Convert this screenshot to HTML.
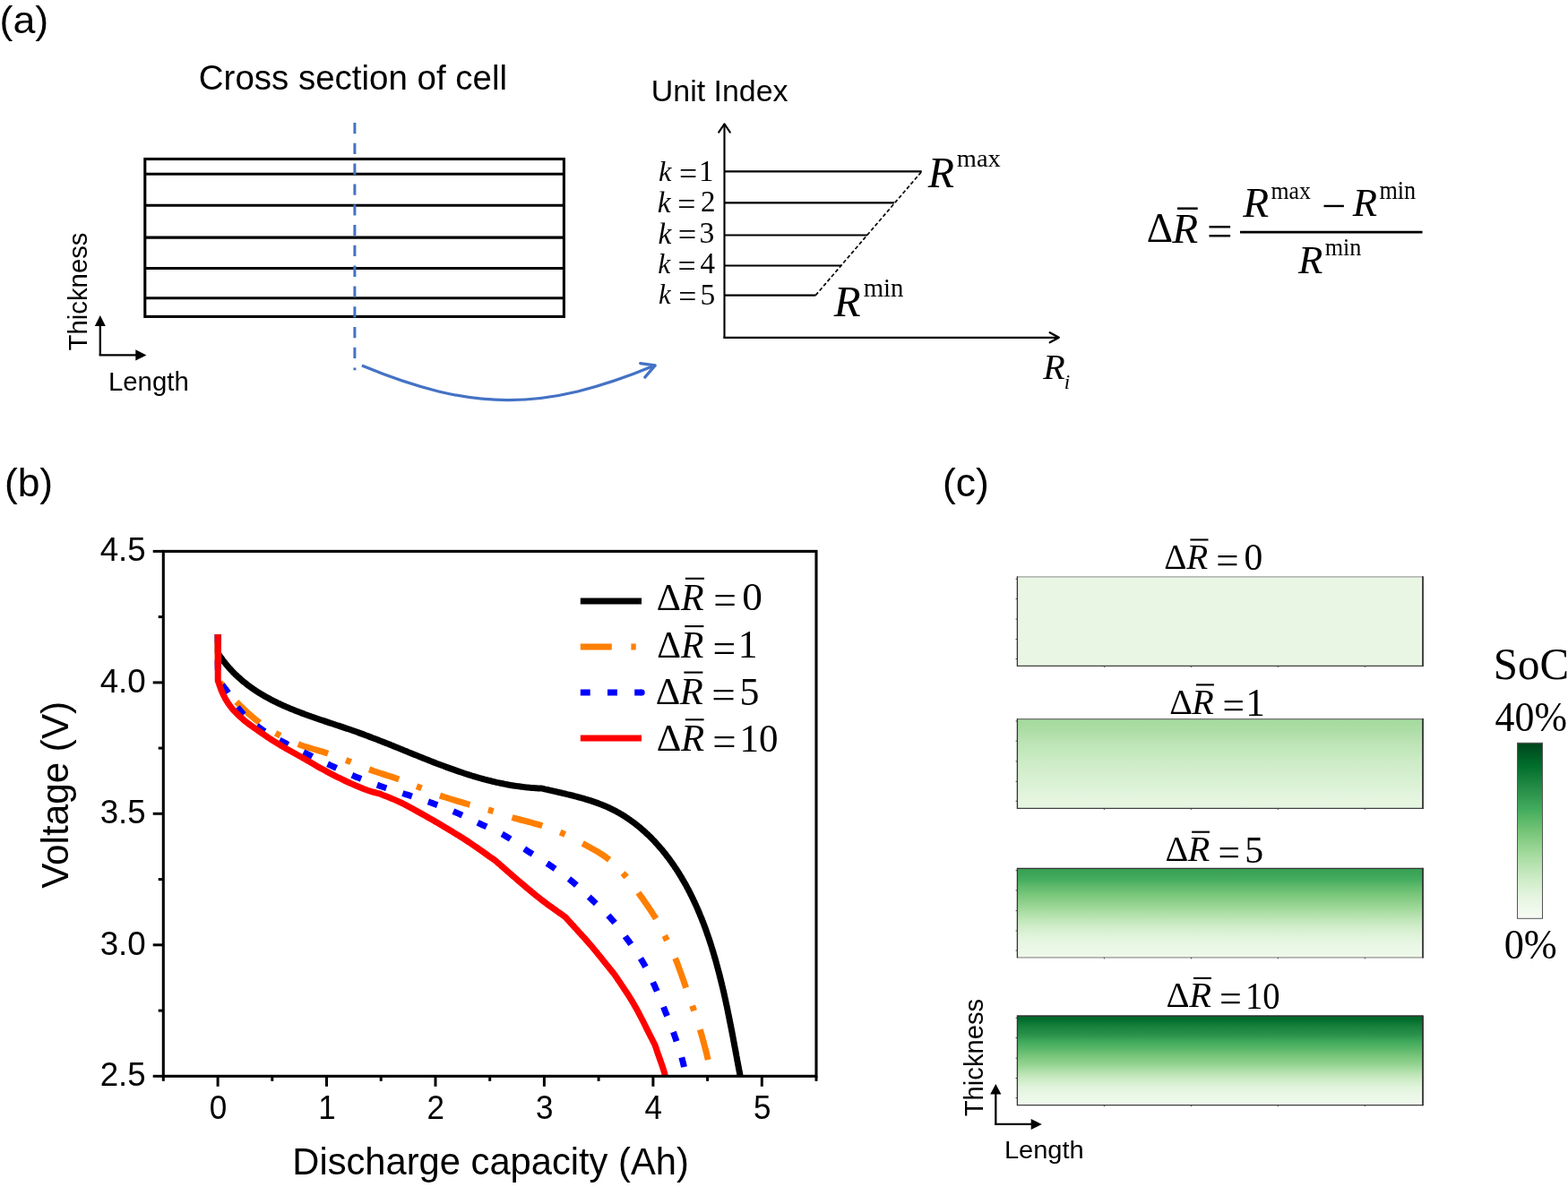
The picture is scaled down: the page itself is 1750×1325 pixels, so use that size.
<!DOCTYPE html>
<html><head><meta charset="utf-8"><title>Figure</title>
<style>html,body{margin:0;padding:0;background:#fff;overflow:hidden;} svg{display:block;}</style>
</head><body>
<svg width="1750" height="1325" viewBox="0 0 1750 1325">
<rect x="0" y="0" width="1750" height="1325" fill="#fff"/>
<text transform="translate(-0.40,37.05) scale(1.0312,1)" style="font-family:'Liberation Sans', Arial, Helvetica, sans-serif;font-size:43.38px;">(a)</text>
<text transform="translate(221.85,100.20) scale(0.9805,1)" style="font-family:'Liberation Sans', Arial, Helvetica, sans-serif;font-size:39.24px;">Cross section of cell</text>
<rect x="161.8" y="177.5" width="467.6" height="175.9" fill="none" stroke="#000" stroke-width="3.1"/>
<line x1="161.8" y1="194.2" x2="629.4" y2="194.2" stroke="#000" stroke-width="3.1"/>
<line x1="161.8" y1="229.3" x2="629.4" y2="229.3" stroke="#000" stroke-width="3.1"/>
<line x1="161.8" y1="265.1" x2="629.4" y2="265.1" stroke="#000" stroke-width="3.1"/>
<line x1="161.8" y1="299.5" x2="629.4" y2="299.5" stroke="#000" stroke-width="3.1"/>
<line x1="161.8" y1="332.8" x2="629.4" y2="332.8" stroke="#000" stroke-width="3.1"/>
<line x1="395.9" y1="137" x2="395.9" y2="413.3" stroke="#4472c4" stroke-width="3" stroke-dasharray="12.3 10.5"/>
<path d="M403.9,408.1 C527.2,459.4 607,459.4 730.5,408.1" fill="none" stroke="#4472c4" stroke-width="3.2"/>
<path d="M714.7,405.6 L731.2,407.9 L719.8,421.1" fill="none" stroke="#4472c4" stroke-width="3.3" stroke-linecap="round" stroke-linejoin="round"/>
<text transform="translate(97.05,391.50) rotate(-90)" style="font-family:'Liberation Sans', Arial, Helvetica, sans-serif;font-size:29.33px;">Thickness</text>
<line x1="111.8" y1="396.4" x2="111.8" y2="362" stroke="#000" stroke-width="2.3"/>
<polygon points="111.8,351.9 105.8,364 117.8,364" fill="#000"/>
<line x1="110.65" y1="396.4" x2="153" y2="396.4" stroke="#000" stroke-width="2.3"/>
<polygon points="163.4,396.4 151.3,390.2 151.3,402.6" fill="#000"/>
<text transform="translate(120.95,436.00) scale(1.0147,1)" style="font-family:'Liberation Sans', Arial, Helvetica, sans-serif;font-size:28.96px;">Length</text>
<text transform="translate(726.80,112.65) scale(1.0395,1)" style="font-family:'Liberation Sans', Arial, Helvetica, sans-serif;font-size:32.63px;">Unit Index</text>
<line x1="808.5" y1="377.8" x2="808.5" y2="138.5" stroke="#000" stroke-width="2.1"/>
<path d="M802.2,147.6 L808.5,138.3 L814.8,147.6" fill="none" stroke="#000" stroke-width="2.1" stroke-linecap="round" stroke-linejoin="round"/>
<line x1="807.5" y1="376.8" x2="1181.5" y2="376.8" stroke="#000" stroke-width="2.3"/>
<path d="M1171.7,371.3 L1181.8,376.8 L1171.7,382.3" fill="none" stroke="#000" stroke-width="2.3" stroke-linecap="round" stroke-linejoin="round"/>
<line x1="808.5" y1="191.4" x2="1028.7" y2="191.4" stroke="#000" stroke-width="2.1"/>
<line x1="808.5" y1="226.4" x2="998" y2="226.4" stroke="#000" stroke-width="2.1"/>
<line x1="808.5" y1="262.5" x2="968" y2="262.5" stroke="#000" stroke-width="2.1"/>
<line x1="808.5" y1="296.5" x2="938.2" y2="296.5" stroke="#000" stroke-width="2.1"/>
<line x1="808.5" y1="329.6" x2="910.3" y2="329.6" stroke="#000" stroke-width="2.1"/>
<line x1="910.3" y1="329.6" x2="1028.7" y2="191.4" stroke="#000" stroke-width="1.7" stroke-dasharray="4.2 2.6"/>
<text transform="translate(735.00,201.50)" style="font-family:'Liberation Serif', 'Times New Roman', Times, serif;font-size:32.53px;font-style:italic;">k</text>
<text transform="translate(757.90,205.55)" style="font-family:'Liberation Serif', 'Times New Roman', Times, serif;font-size:35.78px;">=</text>
<text transform="translate(779.95,201.95)" style="font-family:'Liberation Serif', 'Times New Roman', Times, serif;font-size:32.88px;">1</text>
<text transform="translate(733.75,236.80)" style="font-family:'Liberation Serif', 'Times New Roman', Times, serif;font-size:33.40px;font-style:italic;">k</text>
<text transform="translate(756.30,240.45)" style="font-family:'Liberation Serif', 'Times New Roman', Times, serif;font-size:35.78px;">=</text>
<text transform="translate(781.90,235.95)" style="font-family:'Liberation Serif', 'Times New Roman', Times, serif;font-size:33.01px;">2</text>
<text transform="translate(734.55,271.60)" style="font-family:'Liberation Serif', 'Times New Roman', Times, serif;font-size:33.40px;font-style:italic;">k</text>
<text transform="translate(756.75,274.45)" style="font-family:'Liberation Serif', 'Times New Roman', Times, serif;font-size:36.43px;">=</text>
<text transform="translate(780.60,271.00)" style="font-family:'Liberation Serif', 'Times New Roman', Times, serif;font-size:33.74px;">3</text>
<text transform="translate(734.35,305.30)" style="font-family:'Liberation Serif', 'Times New Roman', Times, serif;font-size:31.68px;font-style:italic;">k</text>
<text transform="translate(756.40,309.45)" style="font-family:'Liberation Serif', 'Times New Roman', Times, serif;font-size:35.78px;">=</text>
<text transform="translate(781.45,305.20)" style="font-family:'Liberation Serif', 'Times New Roman', Times, serif;font-size:33.05px;">4</text>
<text transform="translate(735.05,339.00)" style="font-family:'Liberation Serif', 'Times New Roman', Times, serif;font-size:30.85px;font-style:italic;">k</text>
<text transform="translate(757.30,343.35)" style="font-family:'Liberation Serif', 'Times New Roman', Times, serif;font-size:35.78px;">=</text>
<text transform="translate(781.55,339.55)" style="font-family:'Liberation Serif', 'Times New Roman', Times, serif;font-size:33.51px;">5</text>
<text transform="translate(1035.85,208.55)" style="font-family:'Liberation Serif', 'Times New Roman', Times, serif;font-size:48.03px;font-style:italic;">R</text>
<text transform="translate(1067.85,186.25) scale(1.0757,1)" style="font-family:'Liberation Serif', 'Times New Roman', Times, serif;font-size:26.46px;">max</text>
<text transform="translate(930.75,353.45)" style="font-family:'Liberation Serif', 'Times New Roman', Times, serif;font-size:48.94px;font-style:italic;">R</text>
<text transform="translate(963.65,331.45) scale(0.9611,1)" style="font-family:'Liberation Serif', 'Times New Roman', Times, serif;font-size:29.93px;">min</text>
<text transform="translate(1164.15,423.20)" style="font-family:'Liberation Serif', 'Times New Roman', Times, serif;font-size:40.06px;font-style:italic;">R</text>
<text transform="translate(1187.85,433.75)" style="font-family:'Liberation Serif', 'Times New Roman', Times, serif;font-size:23.18px;font-style:italic;">i</text>
<text transform="translate(1279.70,270.45)" style="font-family:'Liberation Serif', 'Times New Roman', Times, serif;font-size:45.62px;">Δ</text>
<text transform="translate(1308.35,270.70)" style="font-family:'Liberation Serif', 'Times New Roman', Times, serif;font-size:47.35px;font-style:italic;">R</text>
<text transform="translate(1346.90,275.05)" style="font-family:'Liberation Serif', 'Times New Roman', Times, serif;font-size:50.66px;">=</text>
<text transform="translate(1387.20,241.95)" style="font-family:'Liberation Serif', 'Times New Roman', Times, serif;font-size:47.43px;font-style:italic;">R</text>
<text transform="translate(1418.40,221.90) scale(0.9531,1)" style="font-family:'Liberation Serif', 'Times New Roman', Times, serif;font-size:27.08px;">max</text>
<text transform="translate(1475.05,245.65)" style="font-family:'Liberation Serif', 'Times New Roman', Times, serif;font-size:48.30px;">−</text>
<text transform="translate(1509.70,241.05)" style="font-family:'Liberation Serif', 'Times New Roman', Times, serif;font-size:44.73px;font-style:italic;">R</text>
<text transform="translate(1539.40,222.05) scale(0.9040,1)" style="font-family:'Liberation Serif', 'Times New Roman', Times, serif;font-size:28.97px;">min</text>
<text transform="translate(1448.95,304.75)" style="font-family:'Liberation Serif', 'Times New Roman', Times, serif;font-size:44.73px;font-style:italic;">R</text>
<text transform="translate(1478.70,285.00) scale(0.9289,1)" style="font-family:'Liberation Serif', 'Times New Roman', Times, serif;font-size:28.19px;">min</text>
<line x1="1314" y1="232.7" x2="1336.7" y2="232.7" stroke="#000" stroke-width="2.5"/>
<line x1="1384" y1="259.1" x2="1587.5" y2="259.1" stroke="#000" stroke-width="2.8"/>
<text transform="translate(4.90,554.00) scale(0.9880,1)" style="font-family:'Liberation Sans', Arial, Helvetica, sans-serif;font-size:44.91px;">(b)</text>
<defs><clipPath id="pc"><rect x="183" y="600" width="727" height="600.2"/></clipPath></defs>
<g clip-path="url(#pc)" fill="none" stroke-linejoin="round">
<path d="M243.2,708.0 L243.2,729.0 L244.1,730.3 L244.9,731.7 L245.8,733.0 L246.7,734.2 L247.7,735.5 L248.6,736.8 L249.5,738.0 L250.5,739.2 L251.4,740.4 L252.4,741.6 L253.4,742.8 L254.3,743.9 L255.3,745.1 L256.3,746.2 L257.4,747.3 L258.4,748.4 L259.4,749.5 L260.4,750.6 L261.5,751.6 L262.6,752.7 L263.6,753.7 L264.7,754.7 L265.8,755.8 L266.9,756.7 L268.0,757.7 L269.1,758.7 L270.2,759.6 L271.3,760.6 L272.5,761.5 L273.6,762.4 L274.8,763.3 L275.9,764.2 L277.1,765.1 L278.3,766.0 L279.4,766.9 L280.6,767.7 L281.8,768.5 L283.0,769.4 L284.2,770.2 L285.4,771.0 L286.7,771.8 L287.9,772.6 L289.1,773.4 L290.4,774.1 L291.6,774.9 L292.9,775.6 L294.1,776.4 L295.4,777.1 L296.7,777.8 L298.0,778.5 L299.2,779.2 L300.5,779.9 L301.8,780.6 L303.1,781.3 L304.4,782.0 L305.7,782.6 L307.1,783.3 L308.4,783.9 L309.7,784.6 L311.0,785.2 L312.4,785.8 L313.7,786.5 L315.1,787.1 L316.4,787.7 L317.8,788.3 L319.1,788.9 L320.5,789.5 L321.9,790.0 L323.2,790.6 L324.6,791.2 L326.0,791.8 L327.4,792.3 L328.8,792.9 L330.1,793.4 L331.5,794.0 L332.9,794.5 L334.3,795.0 L335.7,795.6 L337.1,796.1 L338.5,796.6 L340.0,797.2 L341.4,797.7 L342.8,798.2 L344.2,798.7 L345.6,799.2 L347.0,799.7 L348.5,800.2 L349.9,800.7 L351.3,801.2 L352.7,801.7 L354.2,802.2 L355.6,802.7 L357.0,803.2 L358.5,803.7 L359.9,804.2 L361.4,804.6 L362.8,805.1 L364.2,805.6 L365.7,806.1 L367.1,806.6 L368.6,807.1 L370.0,807.5 L371.5,808.0 L372.9,808.5 L374.3,809.0 L375.8,809.5 L377.2,809.9 L378.7,810.4 L380.1,810.9 L381.6,811.4 L383.0,811.9 L384.5,812.4 L385.9,812.9 L387.3,813.3 L388.8,813.8 L390.2,814.3 L391.7,814.8 L393.1,815.3 L394.5,815.8 L396.0,816.3 L397.4,816.8 L398.9,817.3 L400.3,817.9 L401.7,818.4 L403.1,818.9 L404.6,819.4 L406.0,819.9 L407.4,820.5 L408.8,821.0 L410.3,821.5 L411.7,822.1 L413.1,822.6 L414.5,823.1 L415.9,823.7 L417.4,824.2 L418.8,824.8 L420.2,825.3 L421.6,825.9 L423.0,826.4 L424.4,827.0 L425.8,827.5 L427.2,828.1 L428.6,828.6 L430.1,829.2 L431.5,829.8 L432.9,830.3 L434.3,830.9 L435.7,831.4 L437.1,832.0 L438.5,832.6 L439.9,833.1 L441.3,833.7 L442.7,834.3 L444.1,834.8 L445.5,835.4 L446.9,836.0 L448.3,836.5 L449.7,837.1 L451.1,837.7 L452.5,838.2 L453.9,838.8 L455.3,839.4 L456.6,839.9 L458.0,840.5 L459.4,841.1 L460.8,841.6 L462.2,842.2 L463.6,842.8 L465.0,843.3 L466.4,843.9 L467.8,844.5 L469.2,845.0 L470.6,845.6 L472.0,846.1 L473.4,846.7 L474.8,847.3 L476.2,847.8 L477.6,848.4 L479.0,848.9 L480.4,849.5 L481.8,850.0 L483.1,850.6 L484.5,851.1 L485.9,851.6 L487.3,852.2 L488.7,852.7 L490.1,853.2 L491.5,853.8 L492.9,854.3 L494.3,854.8 L495.7,855.3 L497.1,855.9 L498.5,856.4 L499.9,856.9 L501.3,857.4 L502.7,857.9 L504.2,858.4 L505.6,858.9 L507.0,859.4 L508.4,859.9 L509.8,860.4 L511.2,860.9 L512.6,861.4 L514.0,861.8 L515.4,862.3 L516.8,862.8 L518.3,863.3 L519.7,863.7 L521.1,864.2 L522.5,864.6 L523.9,865.1 L525.3,865.5 L526.8,866.0 L528.2,866.4 L529.6,866.8 L531.0,867.2 L532.5,867.7 L533.9,868.1 L535.3,868.5 L536.8,868.9 L538.2,869.3 L539.6,869.7 L541.1,870.1 L542.5,870.4 L543.9,870.8 L545.4,871.2 L546.8,871.5 L548.3,871.9 L549.7,872.3 L551.2,872.6 L552.6,872.9 L554.1,873.3 L555.5,873.6 L557.0,873.9 L558.5,874.2 L559.9,874.5 L561.4,874.8 L562.8,875.1 L564.3,875.4 L565.8,875.7 L567.3,876.0 L568.7,876.2 L570.2,876.5 L571.7,876.7 L573.2,877.0 L574.7,877.2 L576.1,877.4 L577.6,877.6 L579.1,877.8 L580.6,878.0 L582.1,878.2 L583.6,878.4 L585.1,878.6 L586.6,878.8 L588.1,878.9 L589.6,879.1 L591.2,879.2 L592.7,879.4 L594.2,879.5 L595.7,879.6 L597.2,879.7 L598.8,879.8 L600.3,879.9 L601.8,880.0 L603.4,880.0 L604.9,880.1 L606.3,880.4 L607.8,880.8 L609.2,881.1 L610.7,881.4 L612.1,881.8 L613.6,882.1 L615.0,882.4 L616.5,882.8 L618.0,883.1 L619.4,883.4 L620.9,883.8 L622.4,884.1 L623.9,884.5 L625.4,884.8 L626.8,885.1 L628.3,885.5 L629.8,885.8 L631.3,886.2 L632.8,886.6 L634.3,886.9 L635.8,887.3 L637.3,887.6 L638.8,888.0 L640.3,888.4 L641.7,888.8 L643.2,889.2 L644.7,889.6 L646.2,890.0 L647.7,890.4 L649.2,890.8 L650.7,891.2 L652.1,891.6 L653.6,892.1 L655.1,892.5 L656.5,893.0 L658.0,893.4 L659.5,893.9 L660.9,894.4 L662.4,894.9 L663.8,895.4 L665.3,895.9 L666.7,896.4 L668.1,896.9 L669.6,897.5 L671.0,898.0 L672.4,898.6 L673.8,899.1 L675.2,899.7 L676.6,900.3 L678.0,900.9 L679.3,901.5 L680.7,902.2 L682.0,902.8 L683.4,903.5 L684.7,904.2 L686.1,904.8 L687.4,905.5 L688.7,906.3 L690.0,907.0 L691.3,907.7 L692.6,908.5 L693.9,909.2 L695.2,910.0 L696.4,910.8 L697.7,911.6 L698.9,912.4 L700.2,913.2 L701.4,914.1 L702.6,914.9 L703.8,915.8 L705.0,916.6 L706.2,917.5 L707.4,918.4 L708.6,919.3 L709.8,920.2 L710.9,921.1 L712.1,922.0 L713.2,923.0 L714.4,923.9 L715.5,924.9 L716.6,925.8 L717.7,926.8 L718.9,927.8 L720.0,928.8 L721.0,929.8 L722.1,930.8 L723.2,931.8 L724.3,932.9 L725.3,933.9 L726.4,934.9 L727.4,936.0 L728.5,937.1 L729.5,938.1 L730.5,939.2 L731.5,940.3 L732.5,941.4 L733.5,942.5 L734.5,943.6 L735.5,944.7 L736.5,945.9 L737.4,947.0 L738.4,948.1 L739.4,949.3 L740.3,950.4 L741.2,951.6 L742.2,952.7 L743.1,953.9 L744.0,955.1 L744.9,956.3 L745.8,957.4 L746.7,958.6 L747.6,959.8 L748.4,961.0 L749.3,962.2 L750.2,963.5 L751.0,964.7 L751.9,965.9 L752.7,967.1 L753.5,968.4 L754.4,969.6 L755.2,970.8 L756.0,972.1 L756.8,973.3 L757.6,974.6 L758.4,975.9 L759.1,977.1 L759.9,978.4 L760.7,979.7 L761.4,981.0 L762.2,982.2 L762.9,983.5 L763.7,984.8 L764.4,986.1 L765.2,987.4 L765.9,988.7 L766.6,990.1 L767.3,991.4 L768.0,992.7 L768.7,994.0 L769.4,995.3 L770.1,996.7 L770.7,998.0 L771.4,999.3 L772.1,1000.7 L772.7,1002.0 L773.4,1003.4 L774.0,1004.7 L774.7,1006.1 L775.3,1007.5 L775.9,1008.8 L776.6,1010.2 L777.2,1011.6 L777.8,1012.9 L778.4,1014.3 L779.0,1015.7 L779.6,1017.1 L780.2,1018.5 L780.8,1019.9 L781.3,1021.3 L781.9,1022.7 L782.5,1024.1 L783.1,1025.5 L783.6,1026.9 L784.2,1028.3 L784.7,1029.7 L785.3,1031.1 L785.8,1032.5 L786.3,1034.0 L786.9,1035.4 L787.4,1036.8 L787.9,1038.2 L788.4,1039.7 L788.9,1041.1 L789.4,1042.6 L789.9,1044.0 L790.4,1045.4 L790.9,1046.9 L791.4,1048.3 L791.9,1049.8 L792.3,1051.2 L792.8,1052.7 L793.3,1054.1 L793.8,1055.6 L794.2,1057.0 L794.7,1058.5 L795.1,1060.0 L795.6,1061.4 L796.0,1062.9 L796.4,1064.4 L796.9,1065.8 L797.3,1067.3 L797.7,1068.8 L798.2,1070.2 L798.6,1071.7 L799.0,1073.2 L799.4,1074.7 L799.8,1076.1 L800.2,1077.6 L800.6,1079.1 L801.0,1080.6 L801.4,1082.1 L801.8,1083.6 L802.2,1085.0 L802.6,1086.5 L803.0,1088.0 L803.3,1089.5 L803.7,1091.0 L804.1,1092.5 L804.5,1094.0 L804.8,1095.5 L805.2,1097.0 L805.6,1098.5 L805.9,1100.0 L806.3,1101.4 L806.6,1102.9 L807.0,1104.4 L807.3,1105.9 L807.7,1107.4 L808.0,1108.9 L808.3,1110.4 L808.7,1111.9 L809.0,1113.4 L809.3,1114.9 L809.7,1116.4 L810.0,1117.9 L810.3,1119.4 L810.6,1120.9 L811.0,1122.4 L811.3,1123.9 L811.6,1125.4 L811.9,1126.9 L812.2,1128.4 L812.5,1129.9 L812.8,1131.4 L813.1,1132.8 L813.4,1134.3 L813.7,1135.8 L814.0,1137.3 L814.3,1138.8 L814.6,1140.3 L814.9,1141.8 L815.2,1143.3 L815.5,1144.8 L815.8,1146.3 L816.1,1147.7 L816.4,1149.2 L816.7,1150.7 L817.0,1152.2 L817.2,1153.7 L817.5,1155.2 L817.8,1156.6 L818.1,1158.1 L818.4,1159.6 L818.6,1161.1 L818.9,1162.5 L819.2,1164.0 L819.5,1165.5 L819.7,1166.9 L820.0,1168.4 L820.3,1169.9 L820.6,1171.3 L820.8,1172.8 L821.1,1174.3 L821.4,1175.7 L821.7,1177.2 L821.9,1178.6 L822.2,1180.1 L822.5,1181.5 L822.7,1183.0 L823.0,1184.4 L823.3,1185.9 L823.5,1187.3 L823.8,1188.7 L824.1,1190.2 L824.3,1191.6 L824.6,1193.0 L824.9,1194.5 L825.2,1195.9 L825.4,1197.3 L825.7,1198.7 L826.0,1200.2 L826.2,1201.6 L826.5,1203.0" stroke="#000" stroke-width="7"/>
<path d="M243.2,708.0 L243.2,760.0 L246.0,762.3 L249.0,765.0 L250.7,766.9 L252.5,769.2 L254.4,771.7 L256.3,774.3 L258.4,777.1 L260.7,779.9 L263.0,782.5 L264.9,784.5 L267.0,786.6 L269.1,788.7 L271.3,790.9 L273.6,793.0 L275.9,795.2 L278.2,797.3 L280.6,799.3 L282.9,801.3 L285.2,803.2 L287.5,805.0 L290.2,807.0 L292.9,809.0 L295.6,810.8 L298.2,812.6 L300.9,814.3 L303.6,816.0 L306.4,817.6 L309.2,819.2 L312.0,820.8 L314.9,822.3 L317.7,823.8 L320.6,825.2 L323.5,826.6 L326.5,828.0 L329.6,829.3 L332.8,830.6 L335.6,831.7 L338.5,832.7 L341.5,833.7 L344.6,834.6 L347.7,835.5 L350.9,836.5 L354.0,837.4 L357.1,838.3 L360.1,839.2 L363.0,840.1 L365.8,841.0 L368.8,842.1 L371.8,843.1 L374.6,844.1 L377.4,845.2 L380.2,846.2 L382.9,847.2 L385.7,848.3 L388.5,849.4 L391.4,850.5 L394.2,851.7 L397.1,852.9 L399.9,854.1 L402.8,855.3 L405.8,856.5 L408.8,857.7 L412.0,858.9 L414.9,859.9 L417.9,861.0 L421.0,862.0 L424.2,863.0 L427.5,864.1 L430.7,865.1 L433.9,866.2 L437.1,867.2 L440.2,868.2 L443.2,869.2 L446.0,870.2 L449.4,871.4 L452.5,872.7 L455.6,873.9 L458.6,875.1 L461.6,876.3 L464.6,877.5 L467.7,878.7 L470.6,879.9 L473.4,881.0 L476.3,882.2 L479.2,883.4 L482.1,884.6 L485.1,885.8 L488.1,887.0 L491.3,888.1 L494.1,889.1 L497.0,890.0 L500.1,891.0 L503.2,892.0 L506.3,892.9 L509.4,893.9 L512.6,894.8 L515.7,895.7 L518.7,896.6 L521.7,897.5 L524.5,898.3 L527.6,899.2 L530.7,900.1 L533.6,900.9 L536.6,901.7 L539.4,902.4 L542.3,903.2 L545.2,904.0 L548.1,904.9 L551.0,905.8 L553.9,906.7 L556.8,907.7 L559.6,908.6 L562.5,909.6 L565.5,910.6 L568.5,911.5 L571.7,912.5 L574.6,913.3 L577.6,914.2 L580.7,915.0 L583.9,915.9 L587.1,916.7 L590.4,917.5 L593.6,918.4 L596.8,919.3 L599.9,920.1 L602.9,921.0 L605.7,921.9 L608.8,922.9 L611.7,923.9 L614.6,924.9 L617.4,926.0 L620.2,927.0 L622.9,928.1 L625.6,929.2 L628.3,930.4 L631.3,931.7 L634.2,933.1 L637.1,934.5 L640.0,936.0 L642.9,937.5 L645.9,939.1 L649.0,940.8 L651.5,942.1 L654.0,943.5 L656.7,945.0 L659.4,946.4 L662.1,948.0 L664.8,949.5 L667.5,951.1 L670.1,952.7 L672.6,954.3 L675.1,956.0 L677.4,957.7 L680.1,959.8 L682.6,961.9 L685.0,964.1 L687.3,966.4 L689.6,968.6 L691.8,970.9 L694.0,973.3 L696.2,975.7 L698.3,978.1 L700.4,980.6 L702.4,983.1 L704.4,985.6 L706.3,988.2 L708.3,990.9 L710.3,993.6 L712.3,996.4 L714.1,998.9 L715.9,1001.4 L717.8,1004.1 L719.7,1006.8 L721.6,1009.5 L723.5,1012.3 L725.4,1015.1 L727.2,1017.8 L728.9,1020.5 L730.6,1023.1 L732.1,1025.7 L733.7,1028.5 L735.3,1031.3 L736.7,1034.1 L738.0,1036.8 L739.4,1039.4 L740.7,1042.1 L742.0,1044.8 L743.3,1047.6 L744.7,1050.4 L746.0,1053.2 L747.4,1055.9 L748.7,1058.7 L750.1,1061.6 L751.4,1064.4 L752.7,1067.4 L754.0,1070.5 L755.1,1073.2 L756.2,1076.1 L757.3,1079.1 L758.4,1082.1 L759.5,1085.1 L760.6,1088.2 L761.7,1091.3 L762.8,1094.3 L763.8,1097.3 L764.8,1100.2 L765.8,1103.0 L766.9,1106.1 L768.0,1109.1 L769.0,1112.1 L770.0,1115.0 L771.0,1117.8 L772.0,1120.7 L773.0,1123.6 L774.0,1126.5 L775.0,1129.5 L776.0,1132.4 L776.9,1135.3 L777.9,1138.3 L778.9,1141.2 L779.8,1144.3 L780.8,1147.4 L781.7,1150.6 L782.5,1153.5 L783.4,1156.4 L784.2,1159.5 L785.1,1162.7 L785.9,1165.9 L786.8,1169.1 L787.6,1172.2 L788.4,1175.3 L789.1,1178.3 L789.8,1181.2 L790.4,1183.9 L791.1,1187.4 L791.7,1190.6 L792.3,1193.8 L792.8,1196.8 L793.3,1199.9 L793.8,1203.0" stroke="#ff7f00" stroke-width="7" stroke-dasharray="35 21.2 6 22" stroke-dashoffset="-83.37"/>
<path d="M243.2,708.0 L243.2,760.0 L245.3,762.2 L247.3,764.3 L249.5,766.5 L251.7,769.2 L253.3,771.3 L254.9,773.7 L256.5,776.3 L258.2,779.1 L259.9,781.9 L261.8,784.8 L263.6,787.6 L265.6,790.3 L267.7,792.8 L269.8,795.1 L271.9,797.3 L274.2,799.5 L276.5,801.7 L278.9,803.8 L281.3,805.9 L283.8,807.9 L286.3,809.8 L288.8,811.8 L291.3,813.6 L294.0,815.5 L296.8,817.3 L299.6,819.1 L302.4,820.8 L305.3,822.4 L308.1,824.0 L311.0,825.6 L313.9,827.1 L316.8,828.7 L319.7,830.2 L322.6,831.8 L325.5,833.2 L328.4,834.7 L331.4,836.1 L334.3,837.6 L337.3,839.0 L340.2,840.5 L343.2,841.9 L345.9,843.2 L348.6,844.6 L351.4,845.9 L354.1,847.2 L356.9,848.6 L359.6,849.9 L362.4,851.2 L365.1,852.5 L367.9,853.8 L370.6,855.1 L373.6,856.5 L376.7,857.9 L379.7,859.3 L382.7,860.7 L385.7,862.1 L388.8,863.5 L391.8,864.8 L394.8,866.1 L397.9,867.4 L400.9,868.6 L403.9,869.8 L407.0,871.0 L410.0,872.2 L413.0,873.3 L416.1,874.4 L419.1,875.5 L422.2,876.6 L425.3,877.7 L428.2,878.7 L431.1,879.7 L434.0,880.6 L436.9,881.6 L439.9,882.5 L442.8,883.4 L445.7,884.4 L448.7,885.3 L451.6,886.3 L454.5,887.2 L457.7,888.2 L460.8,889.3 L464.0,890.3 L467.1,891.3 L470.3,892.3 L473.4,893.3 L476.5,894.4 L479.7,895.5 L482.8,896.6 L485.7,897.7 L488.5,898.7 L491.4,899.8 L494.2,900.9 L497.1,902.1 L499.9,903.2 L502.7,904.4 L505.6,905.5 L508.3,906.7 L511.1,907.9 L514.0,909.2 L516.9,910.5 L519.8,911.8 L522.6,913.2 L525.4,914.5 L528.2,915.9 L531.1,917.2 L533.9,918.6 L536.8,920.0 L539.5,921.3 L542.3,922.5 L545.0,923.8 L547.8,925.1 L550.6,926.3 L553.4,927.6 L556.1,928.9 L558.9,930.3 L561.6,931.7 L564.2,933.2 L567.0,934.9 L569.8,936.7 L572.5,938.5 L575.2,940.4 L577.9,942.3 L580.6,944.2 L583.3,946.1 L586.0,948.0 L588.7,949.8 L591.2,951.5 L593.8,953.1 L596.3,954.7 L598.9,956.3 L601.5,958.0 L604.1,959.6 L606.6,961.2 L609.2,962.9 L611.7,964.5 L614.2,966.2 L616.9,968.0 L619.6,969.9 L622.2,971.7 L624.8,973.5 L627.5,975.4 L630.1,977.3 L632.6,979.2 L635.2,981.2 L637.7,983.2 L640.2,985.3 L642.7,987.5 L645.1,989.6 L647.5,991.9 L649.9,994.1 L652.3,996.4 L654.7,998.7 L657.1,1001.0 L659.5,1003.3 L661.7,1005.4 L664.0,1007.5 L666.2,1009.6 L668.5,1011.7 L670.7,1013.8 L672.9,1015.9 L675.1,1018.1 L677.3,1020.2 L679.4,1022.5 L681.5,1024.7 L683.7,1027.2 L685.9,1029.8 L688.0,1032.3 L690.0,1035.0 L692.1,1037.6 L694.1,1040.3 L696.1,1042.9 L698.0,1045.6 L700.0,1048.3 L701.8,1050.7 L703.6,1053.2 L705.3,1055.6 L707.1,1058.1 L708.8,1060.5 L710.5,1063.0 L712.2,1065.5 L713.8,1068.1 L715.4,1070.6 L717.0,1073.2 L718.5,1075.8 L720.0,1078.5 L721.4,1081.1 L722.7,1083.8 L724.1,1086.5 L725.4,1089.2 L726.7,1092.0 L728.0,1094.7 L729.2,1097.5 L730.5,1100.2 L731.7,1103.0 L733.0,1105.7 L734.1,1108.5 L735.3,1111.3 L736.5,1114.1 L737.6,1116.9 L738.7,1119.7 L739.9,1122.5 L741.0,1125.3 L742.1,1128.1 L743.3,1131.2 L744.6,1134.2 L745.8,1137.3 L747.0,1140.4 L748.2,1143.4 L749.4,1146.5 L750.5,1149.6 L751.7,1152.7 L752.8,1155.8 L753.8,1158.7 L754.8,1161.6 L755.8,1164.6 L756.8,1167.6 L757.8,1170.6 L758.7,1173.6 L759.6,1176.5 L760.5,1179.4 L761.3,1182.2 L762.0,1184.8 L762.8,1188.1 L763.5,1191.2 L764.1,1194.1 L764.6,1197.1 L765.2,1200.0 L765.8,1203.0" stroke="#0000ff" stroke-width="7" stroke-dasharray="11 19" stroke-dashoffset="-28.75"/>
<path d="M243.2,707.9 L243.2,759.8 L244.3,762.8 L245.3,765.9 L246.4,768.9 L247.6,771.9 L248.9,774.9 L250.5,778.0 L252.2,781.1 L254.1,784.2 L256.1,787.1 L258.3,790.0 L260.3,792.4 L262.4,794.6 L264.6,796.9 L266.8,799.0 L269.2,801.1 L271.5,803.2 L273.9,805.2 L276.3,807.1 L278.7,808.9 L281.2,810.7 L283.9,812.6 L286.6,814.5 L288.9,816.1 L291.2,817.8 L293.7,819.4 L296.2,821.1 L298.7,822.9 L301.3,824.6 L303.9,826.3 L306.6,827.9 L309.2,829.6 L311.7,831.1 L314.3,832.7 L317.0,834.2 L319.6,835.7 L322.3,837.2 L325.0,838.7 L327.7,840.2 L330.4,841.7 L333.0,843.2 L335.7,844.7 L338.3,846.2 L341.0,847.7 L343.6,849.3 L346.2,850.8 L348.8,852.3 L351.4,853.8 L354.1,855.4 L356.7,856.9 L359.4,858.3 L362.1,859.8 L364.9,861.3 L367.7,862.8 L370.6,864.3 L373.5,865.8 L376.4,867.3 L379.3,868.7 L382.2,870.1 L385.0,871.5 L387.7,872.8 L390.4,874.0 L393.5,875.4 L396.6,876.8 L399.7,878.1 L402.7,879.3 L405.6,880.5 L408.4,881.5 L411.1,882.5 L414.6,883.6 L417.9,884.5 L421.1,885.3 L424.3,886.2 L427.1,887.4 L430.0,888.5 L432.8,889.6 L435.6,890.8 L438.5,891.9 L441.3,893.1 L444.1,894.4 L447.0,895.7 L449.7,897.0 L452.4,898.4 L455.2,899.9 L457.9,901.3 L460.7,902.8 L463.4,904.4 L466.1,905.9 L468.8,907.4 L471.5,908.9 L474.4,910.5 L477.2,912.1 L480.0,913.7 L482.8,915.3 L485.6,916.9 L488.4,918.6 L491.3,920.3 L494.2,922.0 L496.7,923.5 L499.2,925.0 L501.7,926.5 L504.3,928.0 L506.8,929.6 L509.4,931.2 L512.1,932.8 L514.7,934.5 L517.3,936.1 L519.9,937.8 L522.5,939.5 L525.0,941.2 L527.5,942.9 L530.0,944.6 L532.6,946.3 L535.1,948.1 L537.6,949.9 L540.1,951.7 L542.7,953.5 L545.2,955.3 L547.7,957.1 L550.3,958.8 L552.8,960.6 L555.1,962.6 L557.3,964.5 L559.5,966.5 L561.7,968.4 L564.0,970.4 L566.2,972.4 L568.5,974.4 L570.8,976.3 L573.1,978.4 L575.5,980.4 L577.7,982.3 L580.0,984.3 L582.3,986.2 L584.7,988.2 L587.0,990.3 L589.4,992.3 L591.8,994.3 L594.2,996.3 L596.6,998.3 L599.0,1000.2 L601.4,1002.1 L603.8,1004.0 L606.3,1005.9 L608.8,1007.8 L611.2,1009.6 L613.7,1011.4 L616.2,1013.2 L618.7,1015.0 L621.2,1016.7 L623.6,1018.5 L626.1,1020.2 L628.6,1022.0 L631.1,1023.8 L633.1,1026.1 L635.2,1028.3 L637.2,1030.6 L639.3,1032.8 L641.3,1035.1 L643.4,1037.3 L645.4,1039.6 L647.5,1041.8 L649.5,1044.1 L651.6,1046.3 L653.6,1048.6 L655.6,1050.9 L657.6,1053.2 L659.6,1055.5 L661.6,1057.8 L663.5,1060.2 L665.5,1062.5 L667.4,1064.9 L669.4,1067.3 L671.3,1069.7 L673.2,1072.1 L675.1,1074.4 L677.0,1076.8 L678.9,1079.2 L680.8,1081.6 L682.8,1084.0 L684.7,1086.4 L686.6,1088.8 L688.3,1091.4 L690.0,1094.0 L691.8,1096.6 L693.5,1099.1 L695.2,1101.7 L696.9,1104.2 L698.6,1106.8 L700.4,1109.4 L702.1,1112.1 L703.8,1114.8 L705.5,1117.6 L707.2,1120.5 L708.6,1123.0 L710.0,1125.5 L711.4,1128.0 L712.8,1130.7 L714.2,1133.3 L715.6,1136.0 L717.0,1138.8 L718.4,1141.5 L719.8,1144.3 L721.2,1147.1 L722.6,1149.9 L724.0,1152.7 L725.4,1155.5 L726.8,1158.3 L728.2,1161.0 L729.6,1163.8 L731.0,1166.5 L732.1,1169.6 L733.2,1173.0 L734.4,1176.5 L735.7,1180.0 L736.9,1183.5 L738.1,1186.9 L739.2,1190.2 L740.2,1193.1 L741.0,1195.8 L741.7,1198.0 L742.1,1199.7 L742.4,1201.6 L742.5,1203.0" stroke="#ff0000" stroke-width="7"/>
</g>
<rect x="182.3" y="615.4" width="728.7" height="585.9" fill="none" stroke="#000" stroke-width="3.1"/>
<line x1="170.7" y1="1201.3" x2="182.3" y2="1201.3" stroke="#000" stroke-width="3"/>
<text transform="translate(111.65,1212.15) scale(0.9848,1)" style="font-family:'Liberation Sans', Arial, Helvetica, sans-serif;font-size:37.34px;">2.5</text>
<line x1="176.7" y1="1128.1" x2="182.3" y2="1128.1" stroke="#000" stroke-width="3"/>
<line x1="170.7" y1="1054.8" x2="182.3" y2="1054.8" stroke="#000" stroke-width="3"/>
<text transform="translate(111.65,1065.67) scale(0.9848,1)" style="font-family:'Liberation Sans', Arial, Helvetica, sans-serif;font-size:37.34px;">3.0</text>
<line x1="176.7" y1="981.6" x2="182.3" y2="981.6" stroke="#000" stroke-width="3"/>
<line x1="170.7" y1="908.3" x2="182.3" y2="908.3" stroke="#000" stroke-width="3"/>
<text transform="translate(111.65,919.20) scale(0.9848,1)" style="font-family:'Liberation Sans', Arial, Helvetica, sans-serif;font-size:37.34px;">3.5</text>
<line x1="176.7" y1="835.1" x2="182.3" y2="835.1" stroke="#000" stroke-width="3"/>
<line x1="170.7" y1="761.9" x2="182.3" y2="761.9" stroke="#000" stroke-width="3"/>
<text transform="translate(111.65,772.73) scale(0.9848,1)" style="font-family:'Liberation Sans', Arial, Helvetica, sans-serif;font-size:37.34px;">4.0</text>
<line x1="176.7" y1="688.6" x2="182.3" y2="688.6" stroke="#000" stroke-width="3"/>
<line x1="170.7" y1="615.4" x2="182.3" y2="615.4" stroke="#000" stroke-width="3"/>
<text transform="translate(111.65,626.25) scale(0.9848,1)" style="font-family:'Liberation Sans', Arial, Helvetica, sans-serif;font-size:37.34px;">4.5</text>
<line x1="182.3" y1="1201.3" x2="182.3" y2="1206.8" stroke="#000" stroke-width="3"/>
<line x1="243.1" y1="1201.3" x2="243.1" y2="1212.8" stroke="#000" stroke-width="3"/>
<text transform="translate(233.70,1249.05) scale(0.9463,1)" style="font-family:'Liberation Sans', Arial, Helvetica, sans-serif;font-size:37.04px;">0</text>
<line x1="303.8" y1="1201.3" x2="303.8" y2="1206.8" stroke="#000" stroke-width="3"/>
<line x1="364.5" y1="1201.3" x2="364.5" y2="1212.8" stroke="#000" stroke-width="3"/>
<text transform="translate(355.15,1249.05) scale(0.9463,1)" style="font-family:'Liberation Sans', Arial, Helvetica, sans-serif;font-size:37.04px;">1</text>
<line x1="425.2" y1="1201.3" x2="425.2" y2="1206.8" stroke="#000" stroke-width="3"/>
<line x1="486.0" y1="1201.3" x2="486.0" y2="1212.8" stroke="#000" stroke-width="3"/>
<text transform="translate(476.60,1249.05) scale(0.9463,1)" style="font-family:'Liberation Sans', Arial, Helvetica, sans-serif;font-size:37.04px;">2</text>
<line x1="546.7" y1="1201.3" x2="546.7" y2="1206.8" stroke="#000" stroke-width="3"/>
<line x1="607.4" y1="1201.3" x2="607.4" y2="1212.8" stroke="#000" stroke-width="3"/>
<text transform="translate(598.05,1249.05) scale(0.9463,1)" style="font-family:'Liberation Sans', Arial, Helvetica, sans-serif;font-size:37.04px;">3</text>
<line x1="668.1" y1="1201.3" x2="668.1" y2="1206.8" stroke="#000" stroke-width="3"/>
<line x1="728.9" y1="1201.3" x2="728.9" y2="1212.8" stroke="#000" stroke-width="3"/>
<text transform="translate(719.50,1249.05) scale(0.9463,1)" style="font-family:'Liberation Sans', Arial, Helvetica, sans-serif;font-size:37.04px;">4</text>
<line x1="789.6" y1="1201.3" x2="789.6" y2="1206.8" stroke="#000" stroke-width="3"/>
<line x1="850.3" y1="1201.3" x2="850.3" y2="1212.8" stroke="#000" stroke-width="3"/>
<text transform="translate(840.95,1249.05) scale(0.9463,1)" style="font-family:'Liberation Sans', Arial, Helvetica, sans-serif;font-size:37.04px;">5</text>
<line x1="911.0" y1="1201.3" x2="911.0" y2="1206.8" stroke="#000" stroke-width="3"/>
<text transform="translate(326.30,1311.25) scale(0.9668,1)" style="font-family:'Liberation Sans', Arial, Helvetica, sans-serif;font-size:43.13px;">Discharge capacity (Ah)</text>
<text transform="translate(75.60,991.80) rotate(-90) scale(1.0023,1)" style="font-family:'Liberation Sans', Arial, Helvetica, sans-serif;font-size:42.16px;">Voltage (V)</text>
<line x1="647.8" y1="671" x2="716" y2="671" stroke="#000" stroke-width="7"/>
<line x1="647.8" y1="722.1" x2="716" y2="722.1" stroke="#ff7f00" stroke-width="7" stroke-dasharray="35 21.6 5.3 40"/>
<line x1="647.8" y1="773.1" x2="716" y2="773.1" stroke="#0000ff" stroke-width="7" stroke-dasharray="10.9 19.3"/>
<circle cx="716.2" cy="773.1" r="3.5" fill="#0000ff"/>
<line x1="647.8" y1="823.9" x2="716" y2="823.9" stroke="#ff0000" stroke-width="7"/>
<text transform="translate(732.85,680.75)" style="font-family:'Liberation Serif', 'Times New Roman', Times, serif;font-size:42.29px;">Δ</text>
<text transform="translate(760.05,680.95)" style="font-family:'Liberation Serif', 'Times New Roman', Times, serif;font-size:41.97px;font-style:italic;">R</text>
<text transform="translate(796.30,685.15)" style="font-family:'Liberation Serif', 'Times New Roman', Times, serif;font-size:45.54px;">=</text>
<text transform="translate(828.15,681.40)" style="font-family:'Liberation Serif', 'Times New Roman', Times, serif;font-size:45.35px;">0</text>
<line x1="764.9" y1="645.8" x2="786" y2="645.8" stroke="#000" stroke-width="2.1"/>
<text transform="translate(733.35,734.20)" style="font-family:'Liberation Serif', 'Times New Roman', Times, serif;font-size:41.52px;">Δ</text>
<text transform="translate(760.10,734.20)" style="font-family:'Liberation Serif', 'Times New Roman', Times, serif;font-size:41.52px;font-style:italic;">R</text>
<text transform="translate(795.60,738.50)" style="font-family:'Liberation Serif', 'Times New Roman', Times, serif;font-size:45.54px;">=</text>
<text transform="translate(823.70,734.45)" style="font-family:'Liberation Serif', 'Times New Roman', Times, serif;font-size:43.49px;">1</text>
<line x1="764.3" y1="699.1" x2="785.4" y2="699.1" stroke="#000" stroke-width="2.1"/>
<text transform="translate(731.65,785.80)" style="font-family:'Liberation Serif', 'Times New Roman', Times, serif;font-size:42.74px;">Δ</text>
<text transform="translate(758.85,785.80)" style="font-family:'Liberation Serif', 'Times New Roman', Times, serif;font-size:42.74px;font-style:italic;">R</text>
<text transform="translate(794.15,790.80)" style="font-family:'Liberation Serif', 'Times New Roman', Times, serif;font-size:47.06px;">=</text>
<text transform="translate(825.40,786.60)" style="font-family:'Liberation Serif', 'Times New Roman', Times, serif;font-size:43.94px;">5</text>
<line x1="763.4" y1="750.6" x2="784.4" y2="750.6" stroke="#000" stroke-width="2.1"/>
<text transform="translate(732.85,838.25)" style="font-family:'Liberation Serif', 'Times New Roman', Times, serif;font-size:42.88px;">Δ</text>
<text transform="translate(760.05,838.25)" style="font-family:'Liberation Serif', 'Times New Roman', Times, serif;font-size:42.88px;font-style:italic;">R</text>
<text transform="translate(795.20,842.50)" style="font-family:'Liberation Serif', 'Times New Roman', Times, serif;font-size:46.81px;">=</text>
<text transform="translate(825.40,838.90) scale(0.9483,1)" style="font-family:'Liberation Serif', 'Times New Roman', Times, serif;font-size:45.35px;">10</text>
<line x1="764.9" y1="803.3" x2="785.6" y2="803.3" stroke="#000" stroke-width="2.1"/>
<text transform="translate(1052.00,554.00) scale(0.9894,1)" style="font-family:'Liberation Sans', Arial, Helvetica, sans-serif;font-size:44.91px;">(c)</text>
<defs><linearGradient id="g0" x1="0" y1="0" x2="0" y2="1"><stop offset="0.000" stop-color="#e9f6e4"/><stop offset="1.000" stop-color="#e9f6e4"/></linearGradient><linearGradient id="g1" x1="0" y1="0" x2="0" y2="1"><stop offset="0.000" stop-color="#a4da9e"/><stop offset="0.035" stop-color="#a6db9f"/><stop offset="0.120" stop-color="#acdda5"/><stop offset="0.205" stop-color="#b5e1ae"/><stop offset="0.290" stop-color="#bee5b7"/><stop offset="0.375" stop-color="#c4e8bd"/><stop offset="0.460" stop-color="#ccebc5"/><stop offset="0.545" stop-color="#d1edca"/><stop offset="0.630" stop-color="#d5efcf"/><stop offset="0.715" stop-color="#daf1d4"/><stop offset="0.800" stop-color="#dff3da"/><stop offset="0.885" stop-color="#e4f5df"/><stop offset="0.970" stop-color="#e6f5e1"/><stop offset="1.000" stop-color="#e6f6e2"/></linearGradient><linearGradient id="g2" x1="0" y1="0" x2="0" y2="1"><stop offset="0.000" stop-color="#369f54"/><stop offset="0.035" stop-color="#39a256"/><stop offset="0.120" stop-color="#43ac5e"/><stop offset="0.205" stop-color="#60ba6c"/><stop offset="0.290" stop-color="#78c679"/><stop offset="0.375" stop-color="#8dd08b"/><stop offset="0.460" stop-color="#a3da9c"/><stop offset="0.545" stop-color="#b8e3b1"/><stop offset="0.630" stop-color="#ccebc5"/><stop offset="0.715" stop-color="#daf1d4"/><stop offset="0.800" stop-color="#e4f5df"/><stop offset="0.885" stop-color="#eaf7e6"/><stop offset="0.970" stop-color="#edf8e9"/><stop offset="1.000" stop-color="#eef8ea"/></linearGradient><linearGradient id="g3" x1="0" y1="0" x2="0" y2="1"><stop offset="0.000" stop-color="#00682a"/><stop offset="0.035" stop-color="#006b2b"/><stop offset="0.120" stop-color="#18813d"/><stop offset="0.205" stop-color="#289049"/><stop offset="0.290" stop-color="#40aa5c"/><stop offset="0.375" stop-color="#5cb86a"/><stop offset="0.460" stop-color="#7bc77c"/><stop offset="0.545" stop-color="#94d391"/><stop offset="0.630" stop-color="#b5e1ae"/><stop offset="0.715" stop-color="#ceecc8"/><stop offset="0.800" stop-color="#e1f4dc"/><stop offset="0.885" stop-color="#eaf7e6"/><stop offset="0.970" stop-color="#eef9eb"/><stop offset="1.000" stop-color="#eff9ec"/></linearGradient><linearGradient id="cb" x1="0" y1="1" x2="0" y2="0"><stop offset="0.000" stop-color="#f7fcf5"/><stop offset="0.125" stop-color="#e5f5e0"/><stop offset="0.250" stop-color="#c7e9c0"/><stop offset="0.375" stop-color="#a1d99b"/><stop offset="0.500" stop-color="#74c476"/><stop offset="0.625" stop-color="#41ab5d"/><stop offset="0.750" stop-color="#238b45"/><stop offset="0.875" stop-color="#006d2c"/><stop offset="1.000" stop-color="#00441b"/></linearGradient></defs>
<rect x="1135.4" y="643.9" width="452.6" height="99.5" fill="url(#g0)"/>
<line x1="1135.4" y1="643.9" x2="1588.0" y2="643.9" stroke="#a0a0a0" stroke-width="1.3"/>
<line x1="1135.4" y1="743.4" x2="1588.0" y2="743.4" stroke="#404040" stroke-width="1.3"/>
<line x1="1135.4" y1="643.3" x2="1135.4" y2="744.0" stroke="#333" stroke-width="1.3"/>
<line x1="1588.0" y1="643.3" x2="1588.0" y2="744.0" stroke="#333" stroke-width="1.8"/>
<line x1="1133.6000000000001" y1="646.2" x2="1135.4" y2="646.2" stroke="#444" stroke-width="1"/>
<line x1="1133.6000000000001" y1="668.4" x2="1135.4" y2="668.4" stroke="#444" stroke-width="1"/>
<line x1="1133.6000000000001" y1="691.1" x2="1135.4" y2="691.1" stroke="#444" stroke-width="1"/>
<line x1="1133.6000000000001" y1="713.5" x2="1135.4" y2="713.5" stroke="#444" stroke-width="1"/>
<line x1="1133.6000000000001" y1="735.5" x2="1135.4" y2="735.5" stroke="#444" stroke-width="1"/>
<line x1="1232.4" y1="743.4" x2="1232.4" y2="745.0" stroke="#444" stroke-width="1"/>
<line x1="1329.4" y1="743.4" x2="1329.4" y2="745.0" stroke="#444" stroke-width="1"/>
<line x1="1426.3" y1="743.4" x2="1426.3" y2="745.0" stroke="#444" stroke-width="1"/>
<line x1="1523.3" y1="743.4" x2="1523.3" y2="745.0" stroke="#444" stroke-width="1"/>
<text transform="translate(1299.35,635.00)" style="font-family:'Liberation Serif', 'Times New Roman', Times, serif;font-size:39.17px;">Δ</text>
<text transform="translate(1324.35,635.00)" style="font-family:'Liberation Serif', 'Times New Roman', Times, serif;font-size:39.17px;font-style:italic;">R</text>
<text transform="translate(1357.15,639.60)" style="font-family:'Liberation Serif', 'Times New Roman', Times, serif;font-size:44.93px;">=</text>
<text transform="translate(1388.60,636.00)" style="font-family:'Liberation Serif', 'Times New Roman', Times, serif;font-size:41.55px;">0</text>
<line x1="1328.4" y1="602.5" x2="1348.5" y2="602.5" stroke="#000" stroke-width="2.1"/>
<rect x="1135.4" y="802.7" width="452.6" height="99.6" fill="url(#g1)"/>
<line x1="1135.4" y1="802.7" x2="1588.0" y2="802.7" stroke="#707070" stroke-width="1.3"/>
<line x1="1135.4" y1="902.3" x2="1588.0" y2="902.3" stroke="#404040" stroke-width="1.3"/>
<line x1="1135.4" y1="802.1" x2="1135.4" y2="902.9" stroke="#333" stroke-width="1.3"/>
<line x1="1588.0" y1="802.1" x2="1588.0" y2="902.9" stroke="#333" stroke-width="1.8"/>
<line x1="1133.6000000000001" y1="805.0" x2="1135.4" y2="805.0" stroke="#444" stroke-width="1"/>
<line x1="1133.6000000000001" y1="827.2" x2="1135.4" y2="827.2" stroke="#444" stroke-width="1"/>
<line x1="1133.6000000000001" y1="849.9" x2="1135.4" y2="849.9" stroke="#444" stroke-width="1"/>
<line x1="1133.6000000000001" y1="872.3" x2="1135.4" y2="872.3" stroke="#444" stroke-width="1"/>
<line x1="1133.6000000000001" y1="894.3" x2="1135.4" y2="894.3" stroke="#444" stroke-width="1"/>
<line x1="1232.4" y1="902.3" x2="1232.4" y2="903.9" stroke="#444" stroke-width="1"/>
<line x1="1329.4" y1="902.3" x2="1329.4" y2="903.9" stroke="#444" stroke-width="1"/>
<line x1="1426.3" y1="902.3" x2="1426.3" y2="903.9" stroke="#444" stroke-width="1"/>
<line x1="1523.3" y1="902.3" x2="1523.3" y2="903.9" stroke="#444" stroke-width="1"/>
<text transform="translate(1305.30,797.30)" style="font-family:'Liberation Serif', 'Times New Roman', Times, serif;font-size:40.06px;">Δ</text>
<text transform="translate(1330.25,797.30)" style="font-family:'Liberation Serif', 'Times New Roman', Times, serif;font-size:40.06px;font-style:italic;">R</text>
<text transform="translate(1364.50,801.75)" style="font-family:'Liberation Serif', 'Times New Roman', Times, serif;font-size:43.42px;">=</text>
<text transform="translate(1390.15,798.65)" style="font-family:'Liberation Serif', 'Times New Roman', Times, serif;font-size:43.28px;">1</text>
<line x1="1335" y1="764.4" x2="1354.9" y2="764.4" stroke="#000" stroke-width="2.1"/>
<rect x="1135.4" y="969.4" width="452.6" height="99.4" fill="url(#g2)"/>
<line x1="1135.4" y1="969.4" x2="1588.0" y2="969.4" stroke="#353535" stroke-width="1.3"/>
<line x1="1135.4" y1="1068.8" x2="1588.0" y2="1068.8" stroke="#909090" stroke-width="1.3"/>
<line x1="1135.4" y1="968.8" x2="1135.4" y2="1069.3999999999999" stroke="#333" stroke-width="1.3"/>
<line x1="1588.0" y1="968.8" x2="1588.0" y2="1069.3999999999999" stroke="#333" stroke-width="1.8"/>
<line x1="1133.6000000000001" y1="971.7" x2="1135.4" y2="971.7" stroke="#444" stroke-width="1"/>
<line x1="1133.6000000000001" y1="993.9" x2="1135.4" y2="993.9" stroke="#444" stroke-width="1"/>
<line x1="1133.6000000000001" y1="1016.6" x2="1135.4" y2="1016.6" stroke="#444" stroke-width="1"/>
<line x1="1133.6000000000001" y1="1039.0" x2="1135.4" y2="1039.0" stroke="#444" stroke-width="1"/>
<line x1="1133.6000000000001" y1="1061.0" x2="1135.4" y2="1061.0" stroke="#444" stroke-width="1"/>
<line x1="1232.4" y1="1068.8" x2="1232.4" y2="1070.4" stroke="#444" stroke-width="1"/>
<line x1="1329.4" y1="1068.8" x2="1329.4" y2="1070.4" stroke="#444" stroke-width="1"/>
<line x1="1426.3" y1="1068.8" x2="1426.3" y2="1070.4" stroke="#444" stroke-width="1"/>
<line x1="1523.3" y1="1068.8" x2="1523.3" y2="1070.4" stroke="#444" stroke-width="1"/>
<text transform="translate(1300.55,961.40)" style="font-family:'Liberation Serif', 'Times New Roman', Times, serif;font-size:40.06px;">Δ</text>
<text transform="translate(1325.80,961.40)" style="font-family:'Liberation Serif', 'Times New Roman', Times, serif;font-size:40.06px;font-style:italic;">R</text>
<text transform="translate(1359.50,965.85)" style="font-family:'Liberation Serif', 'Times New Roman', Times, serif;font-size:43.42px;">=</text>
<text transform="translate(1389.20,962.60)" style="font-family:'Liberation Serif', 'Times New Roman', Times, serif;font-size:41.88px;">5</text>
<line x1="1330.1" y1="928.7" x2="1350" y2="928.7" stroke="#000" stroke-width="2.1"/>
<rect x="1135.4" y="1134.0" width="452.6" height="99.6" fill="url(#g3)"/>
<line x1="1135.4" y1="1134.0" x2="1588.0" y2="1134.0" stroke="#303030" stroke-width="1.3"/>
<line x1="1135.4" y1="1233.6" x2="1588.0" y2="1233.6" stroke="#404040" stroke-width="1.3"/>
<line x1="1135.4" y1="1133.4" x2="1135.4" y2="1234.1999999999998" stroke="#333" stroke-width="1.3"/>
<line x1="1588.0" y1="1133.4" x2="1588.0" y2="1234.1999999999998" stroke="#333" stroke-width="1.8"/>
<line x1="1133.6000000000001" y1="1136.3" x2="1135.4" y2="1136.3" stroke="#444" stroke-width="1"/>
<line x1="1133.6000000000001" y1="1158.5" x2="1135.4" y2="1158.5" stroke="#444" stroke-width="1"/>
<line x1="1133.6000000000001" y1="1181.2" x2="1135.4" y2="1181.2" stroke="#444" stroke-width="1"/>
<line x1="1133.6000000000001" y1="1203.6" x2="1135.4" y2="1203.6" stroke="#444" stroke-width="1"/>
<line x1="1133.6000000000001" y1="1225.6" x2="1135.4" y2="1225.6" stroke="#444" stroke-width="1"/>
<line x1="1232.4" y1="1233.6" x2="1232.4" y2="1235.2" stroke="#444" stroke-width="1"/>
<line x1="1329.4" y1="1233.6" x2="1329.4" y2="1235.2" stroke="#444" stroke-width="1"/>
<line x1="1426.3" y1="1233.6" x2="1426.3" y2="1235.2" stroke="#444" stroke-width="1"/>
<line x1="1523.3" y1="1233.6" x2="1523.3" y2="1235.2" stroke="#444" stroke-width="1"/>
<text transform="translate(1301.60,1124.45)" style="font-family:'Liberation Serif', 'Times New Roman', Times, serif;font-size:40.51px;">Δ</text>
<text transform="translate(1327.20,1124.45)" style="font-family:'Liberation Serif', 'Times New Roman', Times, serif;font-size:40.51px;font-style:italic;">R</text>
<text transform="translate(1360.95,1129.40)" style="font-family:'Liberation Serif', 'Times New Roman', Times, serif;font-size:44.05px;">=</text>
<text transform="translate(1390.00,1125.60) scale(0.9298,1)" style="font-family:'Liberation Serif', 'Times New Roman', Times, serif;font-size:41.55px;">10</text>
<line x1="1332" y1="1091.9" x2="1351.9" y2="1091.9" stroke="#000" stroke-width="2.1"/>
<rect x="1693.5" y="829.3" width="28" height="196" fill="url(#cb)" stroke="#555" stroke-width="1"/>
<text transform="translate(1666.80,758.40) scale(0.9775,1)" style="font-family:'Liberation Serif', 'Times New Roman', Times, serif;font-size:50.00px;">SoC</text>
<text transform="translate(1668.60,815.85) scale(0.9520,1)" style="font-family:'Liberation Serif', 'Times New Roman', Times, serif;font-size:46.03px;">40%</text>
<text transform="translate(1678.65,1069.75) scale(0.9639,1)" style="font-family:'Liberation Serif', 'Times New Roman', Times, serif;font-size:46.03px;">0%</text>
<text transform="translate(1097.00,1246.30) rotate(-90) scale(0.9706,1)" style="font-family:'Liberation Sans', Arial, Helvetica, sans-serif;font-size:30.10px;">Thickness</text>
<line x1="1111.3" y1="1255.1" x2="1111.3" y2="1220" stroke="#000" stroke-width="2.3"/>
<polygon points="1111.3,1209.9 1105.2,1221.6 1117.4,1221.6" fill="#000"/>
<line x1="1110.15" y1="1254.9" x2="1152" y2="1254.9" stroke="#000" stroke-width="2.3"/>
<polygon points="1162.8,1254.9 1150.7,1248.9 1150.7,1260.9" fill="#000"/>
<text transform="translate(1120.90,1293.45) scale(1.0691,1)" style="font-family:'Liberation Sans', Arial, Helvetica, sans-serif;font-size:27.19px;">Length</text>
</svg>
</body></html>
